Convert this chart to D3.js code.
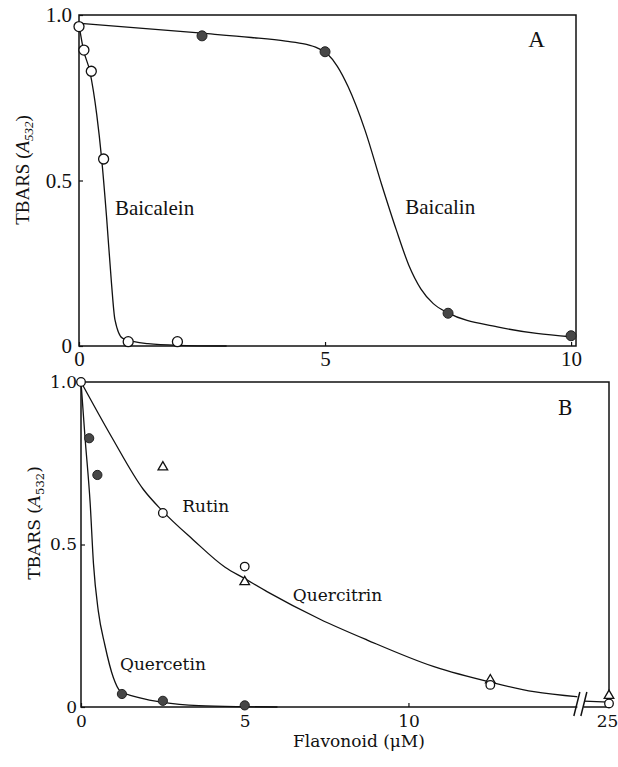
<!DOCTYPE html>
<html>
<head>
<meta charset="utf-8">
<script src="https://cdn.jsdelivr.net/npm/d3@7"></script>
<style>
  body { margin: 0; background: #fff; }
  svg { display: block; }
  .frame { fill: none; stroke: #111; stroke-width: 1.5; }
  .fit { fill: none; stroke: #111; stroke-width: 1.3; }
  .open { fill: #fff; stroke: #111; stroke-width: 1.3; }
  .filled { fill: #474747; stroke: #222; stroke-width: 1; }
  .axis line { stroke: #111; stroke-width: 1.2; }
</style>
</head>
<body>
<svg id="chart" width="618" height="767"></svg>
<script>
// ---- Panel A: measured points [µM, A532]
const baicaleinPts = [[0, 0.965], [0.1, 0.894], [0.25, 0.83], [0.5, 0.565], [1, 0.013], [2, 0.013]];
const baicalinPts = [[2.5, 0.937], [5, 0.889], [7.5, 0.099], [10, 0.031]];

// hand-drawn fit lines
const baicaleinFit = [[0, 0.97], [0.09, 0.895], [0.22, 0.83], [0.36, 0.70], [0.46, 0.566], [0.56, 0.39],
  [0.66, 0.19], [0.73, 0.08], [0.89, 0.023], [1.4, 0.007], [2, 0.002], [3, 0]];
const baicalinFit = [[0, 0.975], [2.5, 0.945], [3.5, 0.932], [4.2, 0.921], [4.6, 0.912], [4.85, 0.9],
  [5.05, 0.882], [5.25, 0.845], [5.47, 0.783], [5.81, 0.653], [6.15, 0.488], [6.45, 0.35], [6.7, 0.245],
  [6.95, 0.172], [7.2, 0.128], [7.5, 0.10], [8.5, 0.058], [9.3, 0.038], [10, 0.028]];

// ---- Panel B
const quercetinPts = [[0.25, 0.827], [0.5, 0.714], [1.25, 0.04], [2.5, 0.019], [5, 0.005]];
const rutinPts = [[0, 1.0], [2.5, 0.597], [5, 0.432], [12.5, 0.068], [25, 0.011]];
const quercitrinPts = [[2.5, 0.738], [5, 0.385], [12.5, 0.083], [25, 0.035]];

const quercetinFit = [[0, 1.0], [0.12, 0.833], [0.28, 0.627], [0.38, 0.442], [0.53, 0.294], [0.73, 0.19],
  [0.99, 0.09], [1.19, 0.05], [1.8, 0.028], [2.5, 0.014], [3.6, 0.004], [5, 0.001], [6, 0]];
const rutinFit = [[0, 1.0], [0.94, 0.83], [1.9, 0.67], [2.47, 0.605], [3.43, 0.514], [4.4, 0.43], [5, 0.395],
  [5.68, 0.355], [7.3, 0.27], [8.74, 0.206], [10.78, 0.124], [12.56, 0.075], [13.83, 0.047], [15.2, 0.031]];
const rutinFitTail = [[24.2, 0.018], [25, 0.015]];

const yTicks = [0, 0.5, 1];
const xTicksA = [0, 5, 10];
const xTicksB = [0, 5, 10, 25];
const axisBreak = 15.25;

const svg = d3.select('#chart');
const fmtY = d => d === 0 ? '0' : d3.format('.1f')(d);

function drawPanel(cfg) {
  const { x, y, font, size } = cfg;
  const g = svg.append('g');
  const [x0, x1] = [x.range()[0], x.range()[x.range().length - 1]];
  const [y0, y1] = y.range();

  const line = d3.line().x(d => x(d[0])).y(d => y(d[1])).curve(d3.curveMonotoneX);
  cfg.fits.forEach(f => g.append('path').attr('class', 'fit').attr('d', line(f)));

  g.append('rect').attr('class', 'frame')
    .attr('x', x0).attr('y', y1).attr('width', x1 - x0).attr('height', y0 - y1);

  const xAxis = d3.axisBottom(x).tickValues(cfg.xTicks).tickSize(-4).tickPadding(cfg.xPad).tickFormat(d3.format('d'));
  const yAxis = d3.axisLeft(y).tickValues(yTicks).tickSize(-4).tickPadding(cfg.yPad).tickFormat(fmtY);
  const xg = g.append('g').attr('transform', `translate(0,${y0})`).call(xAxis);
  const yg = g.append('g').attr('transform', `translate(${x0},0)`).call(yAxis);
  [xg, yg].forEach(a => {
    a.attr('class', 'axis').attr('font-family', font).attr('font-size', size);
    a.select('.domain').remove();
    a.selectAll('text').attr('fill', '#111');
  });
  // last x label sits on the page edge, pull it in a little
  xg.selectAll('.tick:last-of-type text').attr('dx', cfg.lastTickShift || 0);

  if (cfg.breakAt != null) {
    const bx = x(cfg.breakAt);
    g.append('rect').attr('x', bx - 3).attr('y', y0 - 12).attr('width', 6).attr('height', 20).attr('fill', '#fff');
    [-3.5, 3.5].forEach(o => g.append('line')
      .attr('x1', bx + o - 3).attr('y1', y0 + 9).attr('x2', bx + o + 3).attr('y2', y0 - 15)
      .attr('stroke', '#111').attr('stroke-width', 1.5));
  }

  cfg.series.forEach(s => {
    if (s.shape === 'triangle') {
      g.selectAll(null).data(s.data).join('path')
        .attr('class', 'open')
        .attr('d', d3.symbol(d3.symbolTriangle, 40))
        .attr('transform', d => `translate(${x(d[0])},${y(d[1])})`);
    } else {
      g.selectAll(null).data(s.data).join('circle')
        .attr('class', s.shape)
        .attr('cx', d => x(d[0])).attr('cy', d => y(d[1]))
        .attr('r', s.shape === 'open' ? cfg.rOpen : cfg.rFilled);
    }
  });

  cfg.labels.forEach(l => g.append('text')
    .attr('x', x(l.at[0])).attr('y', y(l.at[1]))
    .attr('font-family', font).attr('font-size', l.size || size).attr('fill', '#111')
    .text(l.text));

  const ts = cfg.yTitleSize;
  const yt = g.append('text')
    .attr('transform', `translate(${cfg.yTitle[0]},${cfg.yTitle[1]}) rotate(-90)`)
    .attr('text-anchor', 'middle').attr('dy', '0.35em')
    .attr('font-family', font).attr('font-size', ts).attr('fill', '#111');
  yt.append('tspan').text('TBARS (');
  yt.append('tspan').attr('font-style', 'italic').text('A');
  yt.append('tspan').attr('font-size', ts * 0.68).attr('dy', 4)
    .attr('font-style', cfg.italicSub ? 'italic' : 'normal').text('532');
  yt.append('tspan').attr('dy', -4).text(')');
  return g;
}

drawPanel({
  x: d3.scaleLinear().domain([0, 10.1]).range([79, 576]),
  y: d3.scaleLinear().domain([0, 1]).range([346, 15]),
  font: '"Liberation Serif", "Times New Roman", serif', size: 21, yTitleSize: 19,
  xTicks: xTicksA, xPad: 5, yPad: 7, rOpen: 5, rFilled: 5, italicSub: true,
  fits: [baicaleinFit, baicalinFit],
  series: [{ data: baicaleinPts, shape: 'open' }, { data: baicalinPts, shape: 'filled' }],
  labels: [
    { text: 'Baicalein', at: [0.73, 0.396] },
    { text: 'Baicalin', at: [6.63, 0.399] },
    { text: 'A', at: [9.13, 0.903], size: 23 }
  ],
  yTitle: [22, 170]
});

const xB = d3.scaleLinear().domain([0, 15.3, 24.2, 25]).range([81, 582, 584, 609]);
const yB = d3.scaleLinear().domain([0, 1]).range([707, 382]);
drawPanel({
  x: xB, y: yB,
  font: '"DejaVu Serif", serif', size: 17, yTitleSize: 17,
  xTicks: xTicksB, xPad: 8, yPad: 4, rOpen: 4.3, rFilled: 4.6, italicSub: false,
  breakAt: axisBreak, lastTickShift: -2,
  fits: [quercetinFit, rutinFit, rutinFitTail],
  series: [
    { data: quercetinPts, shape: 'filled' },
    { data: quercitrinPts, shape: 'triangle' },
    { data: rutinPts, shape: 'open' }
  ],
  labels: [
    { text: 'Rutin', at: [3.09, 0.6] },
    { text: 'Quercitrin', at: [6.47, 0.327] },
    { text: 'Quercetin', at: [1.19, 0.114] },
    { text: 'B', at: [14.56, 0.898], size: 20 }
  ],
  yTitle: [34, 523]
});

svg.append('text')
  .attr('x', 359).attr('y', 747).attr('text-anchor', 'middle')
  .attr('font-family', '"DejaVu Serif", serif').attr('font-size', 17).attr('fill', '#111')
  .text('Flavonoid (μM)');
</script>
</body>
</html>
